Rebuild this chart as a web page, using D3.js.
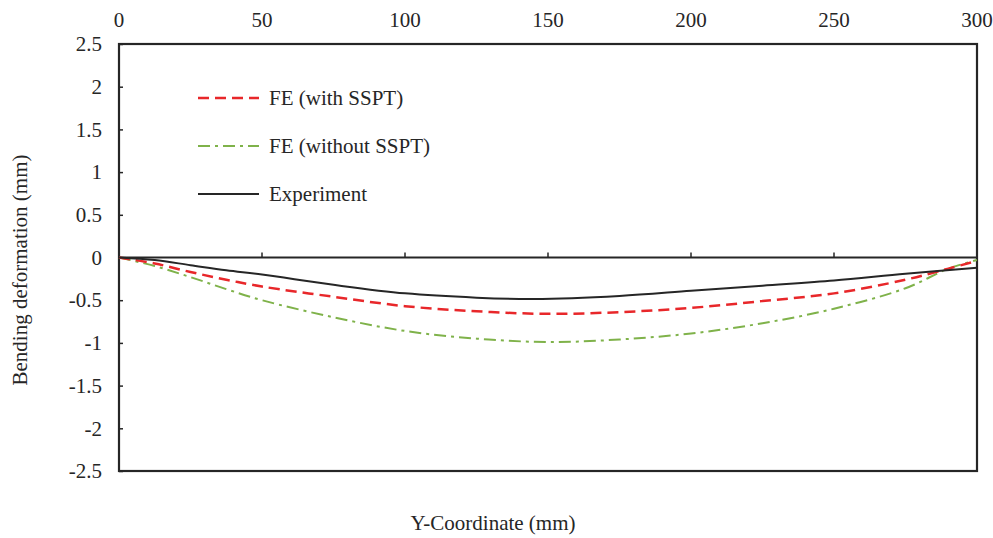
<!DOCTYPE html>
<html><head><meta charset="utf-8">
<script src="https://cdn.jsdelivr.net/npm/d3@7"></script>
<style>body{margin:0;background:#fff}svg{display:block}</style>
</head><body><svg id="c" width="993" height="538"></svg>
<script>
const xTicks = [0,50,100,150,200,250,300];
const yTicks = [2.5,2,1.5,1,0.5,0,-0.5,-1,-1.5,-2,-2.5];
const redX   = [0,12.5,25,37.5,50,75,100,125,150,175,200,225,250,275,290,300];
const redY   = [0,-0.07,-0.17,-0.26,-0.34,-0.46,-0.57,-0.63,-0.66,-0.64,-0.59,-0.51,-0.42,-0.26,-0.13,-0.04];
const greenX = [0,12.5,25,37.5,50,75,100,125,150,175,200,225,250,275,290,300];
const greenY = [0,-0.1,-0.23,-0.37,-0.5,-0.7,-0.86,-0.95,-0.99,-0.96,-0.89,-0.77,-0.6,-0.36,-0.13,-0.03];
const blackX = [0,12.5,25,37.5,50,75,100,125,145,175,200,225,250,275,300];
const blackY = [0,-0.03,-0.09,-0.15,-0.2,-0.32,-0.42,-0.47,-0.485,-0.45,-0.39,-0.33,-0.27,-0.19,-0.12];
const seriesNames = ["FE (with SSPT)","FE (without SSPT)","Experiment"];

const FONT = '"Liberation Serif"';
const FS = 21;
const svg = d3.select("#c");
const L=119,R=977,T=44,B=471;
const x = d3.scaleLinear().domain([0,300]).range([L,R]);
const y = d3.scaleLinear().domain([-2.5,2.5]).range([B,T]);
const ink="#262626";
function txt(sel){ return sel.style("font-family",FONT).style("font-size",FS+"px").attr("fill",ink); }

svg.append("rect").attr("x",L).attr("y",T).attr("width",R-L).attr("height",B-T)
  .attr("fill","none").attr("stroke",ink).attr("stroke-width",2.2);

const yAxis = d3.axisLeft(y).tickValues(yTicks).tickSize(-4).tickPadding(17)
  .tickFormat(d=>String(d));
const gy = svg.append("g").attr("transform",`translate(${L},0)`).call(yAxis);
gy.select(".domain").remove();
gy.selectAll("line").attr("stroke",ink).attr("stroke-width",1.5);
txt(gy.selectAll("text"));

svg.append("line").attr("x1",L).attr("x2",R).attr("y1",y(0)).attr("y2",y(0))
  .attr("stroke",ink).attr("stroke-width",2.2);
svg.append("g").selectAll("line").data(xTicks.filter(d=>d>0&&d<300)).join("line")
  .attr("x1",d=>x(d)).attr("x2",d=>x(d)).attr("y1",y(0)).attr("y2",y(0)-5)
  .attr("stroke",ink).attr("stroke-width",1.5);
txt(svg.append("g").selectAll("text").data(xTicks).join("text")
  .attr("x",d=>x(d)).attr("y",27).attr("text-anchor","middle").text(d=>d));

txt(svg.append("text").attr("transform",`translate(27,270) rotate(-90)`).attr("text-anchor","middle")
  .text("Bending deformation (mm)"));
txt(svg.append("text").attr("x",493).attr("y",530).attr("text-anchor","middle")
  .text("Y-Coordinate (mm)"));

const line = d3.line().x(d=>x(d[0])).y(d=>y(d[1])).curve(d3.curveCatmullRom);
const styles = [
  {c:"#e8272a",dash:"11,6",w:2.5},
  {c:"#7fb24a",dash:"12,5,3,5",w:2},
  {c:"#262626",dash:null,w:2}
];
const data = [d3.zip(redX,redY), d3.zip(greenX,greenY), d3.zip(blackX,blackY)];
[1,0,2].forEach(i=>{
  const p = svg.append("path").attr("d",line(data[i])).attr("fill","none")
    .attr("stroke",styles[i].c).attr("stroke-width",styles[i].w);
  if(styles[i].dash) p.attr("stroke-dasharray",styles[i].dash);
});

const ly=[98,146,194];
seriesNames.forEach((n,i)=>{
  const l = svg.append("line").attr("x1",198).attr("x2",259).attr("y1",ly[i]).attr("y2",ly[i])
    .attr("stroke",styles[i].c).attr("stroke-width",styles[i].w);
  if(styles[i].dash) l.attr("stroke-dasharray",styles[i].dash);
  txt(svg.append("text").attr("x",269).attr("y",ly[i]+7).text(n));
});
</script></body></html>
